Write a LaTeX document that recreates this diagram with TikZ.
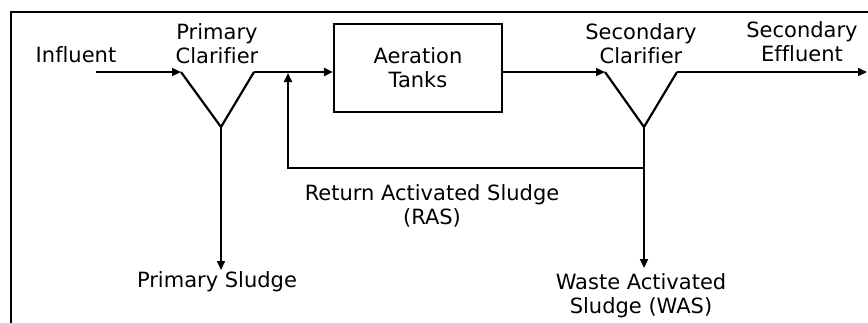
\documentclass[tikz,border=0pt]{standalone}
\usepackage{fontspec}
\setmainfont{DejaVu Sans}[Ligatures=NoCommon]
\usetikzlibrary{arrows.meta}
\begin{document}
\begin{tikzpicture}[x=1pt,y=-1pt,
  flow/.style={line width=2.2pt,-{Triangle[length=9pt,width=8pt]}},
  pipe/.style={line width=2.2pt,line join=miter},
  lbl/.style={font=\fontsize{21}{24}\selectfont,align=center,inner sep=0pt,anchor=base},
  tank/.style={draw,line width=2.2pt,minimum width=168pt,minimum height=88pt,inner sep=0pt,
               font=\fontsize{21}{24}\selectfont,align=center}]
\useasboundingbox (0,0) rectangle (868,322);
% frame
\draw[line width=2.6pt] (11,330) -- (11,12) -- (880,12);

% key points of the flow sheet
\coordinate (inf) at (96,72);
\coordinate (pcL) at (181,72);
\coordinate (pcB) at (221,127);
\coordinate (pcR) at (254,72);
\coordinate (scL) at (605,72);
\coordinate (scB) at (644,127);
\coordinate (scR) at (677,72);
\coordinate (eff) at (867,72);
\coordinate (rasT) at (288,73);
\coordinate (rasC) at (288,168);
\coordinate (rasJ) at (644,168);
\coordinate (psE) at (221,270);
\coordinate (wasE) at (644,268);

% aeration basin
\node[tank] (aer) at (418,68) {Aeration\\Tanks};

% clarifiers
\draw[pipe] (pcL) -- (pcB) -- (pcR);
\draw[pipe] (scL) -- (scB) -- (scR);

% flows
\draw[flow] (inf) -- (pcL);
\draw[flow] (pcR) -- (pcR -| aer.west);
\draw[flow] (aer.east |- scL) -- (scL);
\draw[flow] (scR) -- (eff);
\draw[flow] (rasJ) -- (rasC) -- (rasT);
\draw[flow] (pcB) -- (psE);
\draw[flow] (scB) -- (wasE);

% labels (base anchor sits on the last line)
\node[lbl] (tInf) at (76,62) {Influent};
\node[lbl] (tPC) at (217,63) {Primary\\Clarifier};
\node[lbl] (tSC) at (641,63) {Secondary\\Clarifier};
\node[lbl] (tSE) at (802,61) {Secondary\\Effluent};
\node[lbl] (tRAS) at (432,224) {Return Activated Sludge\\(RAS)};
\node[lbl] (tPS) at (217,287) {Primary Sludge};
\node[lbl] (tWAS) at (641,313) {Waste Activated\\Sludge (WAS)};
\end{tikzpicture}
\end{document}
